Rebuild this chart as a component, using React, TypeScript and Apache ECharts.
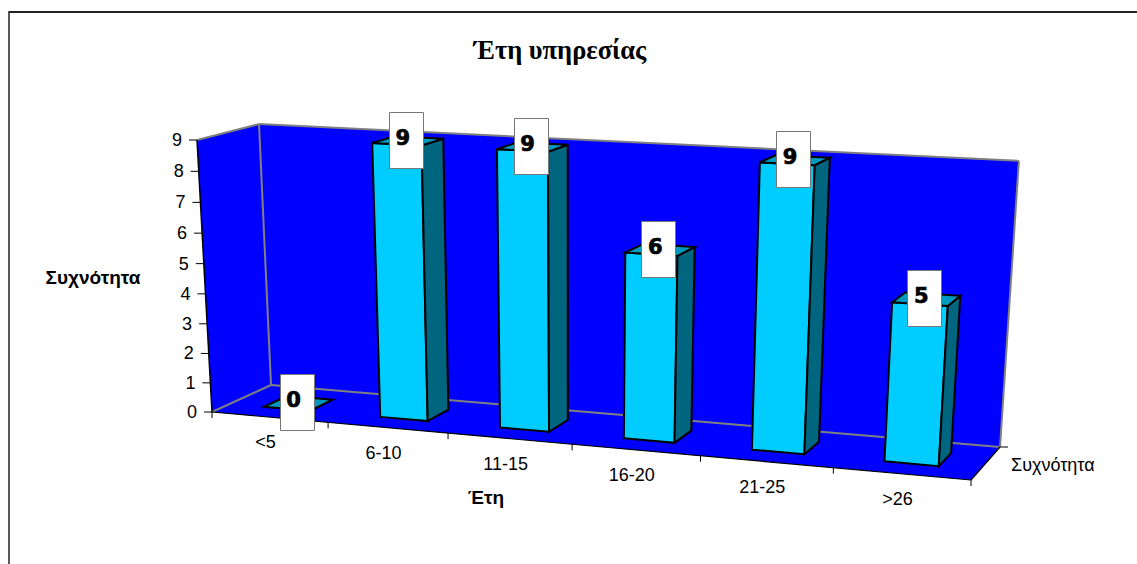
import React, { useEffect, useRef } from "react";
import * as echarts from "echarts";

const categories = ["<5", "6-10", "11-15", "16-20", "21-25", ">26"];
const frequencies = [0, 9, 9, 6, 9, 5];
const valueTicks = [0, 1, 2, 3, 4, 5, 6, 7, 8, 9];
const titleText = "Έτη υπηρεσίας";
const yAxisTitle = "Συχνότητα";
const xAxisTitle = "Έτη";
const seriesName = "Συχνότητα";

const GRID = { left: 212, top: 140, width: 759, height: 272 };
const O = [212, 412], PX = [971, 480], PY = [271, 385], PZ = [197, 140];
const gx = -0.0972, gy = 0.045, gz = -0.04;

// perspective map of the unit box (X along categories, Y depth, Z height) to the page
function project(X: number, Y: number, Z: number): number[] {
  const w = 1 + gx * X + gy * Y + gz * Z;
  const f = (k: number) =>
    (O[k] + (PX[k] * (1 + gx) - O[k]) * X + (PY[k] * (1 + gy) - O[k]) * Y + (PZ[k] * (1 + gz) - O[k]) * Z) / w;
  return [f(0), f(1)];
}
const unitX = (px: number) => (px - GRID.left) / GRID.width;
const unitZ = (py: number) => (GRID.top + GRID.height - py) / GRID.height;

const BLUE = "#0000FF";
const GREY = "#808080";
const poly = (points: number[][], fill: string, stroke?: string, lineWidth = 0, z2 = 0) => ({
  type: "polygon",
  z2,
  shape: { points },
  style: { fill, stroke: stroke || "none", lineWidth, lineJoin: "miter" },
});
const seg = (a: number[], b: number[], stroke: string, lineWidth: number, z2 = 1) => ({
  type: "line",
  z2,
  shape: { x1: a[0], y1: a[1], x2: b[0], y2: b[1] },
  style: { stroke, lineWidth },
});
const text = (x: number, y: number, t: string, font: string, align = "center", z2 = 2) => ({
  type: "text",
  z2,
  style: { x, y, text: t, font, fill: "#000", align, verticalAlign: "middle" },
});

const AXIS_FONT = '18px "Liberation Sans", Arial, sans-serif';
const BOLD_FONT = 'bold 19px "Liberation Sans", Arial, sans-serif';
const BAR_HALF = 0.2 / 6;
const V0 = 0.3, V1 = 0.7;

function renderWalls() {
  const a = project(0, 0, 0), b = project(1, 0, 0), c = project(1, 1, 0), d = project(0, 1, 0);
  const e = project(0, 0, 1), f = project(0, 1, 1), g = project(1, 1, 1);
  return {
    type: "group",
    children: [
      poly([a, b, c, d], BLUE),
      poly([a, e, f, d], BLUE),
      poly([d, f, g, c], BLUE),
      seg(e, f, GREY, 2),
      seg(f, g, GREY, 2),
      seg(g, c, GREY, 2),
      seg(f, d, GREY, 2),
      seg(d, c, GREY, 2),
      seg(d, a, GREY, 2),
      seg(e, a, "#000", 1.5, 3),
      seg(a, b, "#000", 1.2, 3),
      seg(b, c, "#000", 1.2, 3),
      seg(c, [c[0] + 8, c[1]], "#000", 1, 3),
      text(c[0] + 11, c[1] + 18, seriesName, AXIS_FONT, "left"),
    ],
  };
}

function renderValueTick(_: any, api: any) {
  const z = unitZ(api.coord([0, api.value(0)])[1]);
  const p = project(0, 0, z);
  return {
    type: "group",
    children: [
      seg([p[0] - 8, p[1]], p, "#000", 1, 3),
      text(p[0] - 15, p[1], String(api.value(0)), AXIS_FONT, "right"),
    ],
  };
}

function renderCategoryTick(params: any, api: any) {
  const cx = unitX(api.coord([params.dataIndex, 0])[0]);
  const half = 0.5 / 6;
  const end = project(cx + half, 0, 0);
  const mid = project(cx, 0, 0);
  const children: any[] = [
    seg(end, [end[0], end[1] + 6], "#000", 1, 3),
    text(mid[0] - 4, mid[1] + 25, categories[params.dataIndex], AXIS_FONT),
  ];
  if (params.dataIndex === 0) {
    const s = project(0, 0, 0);
    children.push(seg(s, [s[0], s[1] + 6], "#000", 1, 3));
  }
  return { type: "group", children };
}

function renderBar(params: any, api: any) {
  const c = api.coord([api.value(0), api.value(1)]);
  const cx = unitX(c[0]);
  const z = unitZ(c[1]);
  const x0 = cx - BAR_HALF, x1 = cx + BAR_HALF;
  const fl = project(x0, V0, 0), fr = project(x1, V0, 0), br = project(x1, V1, 0);
  const tfl = project(x0, V0, z), tfr = project(x1, V0, z), tbr = project(x1, V1, z), tbl = project(x0, V1, z);
  const S = "#000";
  return {
    type: "group",
    children: [
      poly([fl, fr, tfr, tfl], "#00CCFF", S, 2),
      poly([fr, br, tbr, tfr], "#006680", S, 2),
      poly([tfl, tfr, tbr, tbl], "#0099BF", S, 2),
    ],
  };
}

function renderLabel(params: any, api: any) {
  const c = api.coord([api.value(0), api.value(1)]);
  const p = project(unitX(c[0]), (V0 + V1) / 2, unitZ(c[1]));
  return {
    type: "group",
    children: [
      {
        type: "rect",
        z2: 4,
        shape: { x: Math.round(p[0]) - 19 + 0.5, y: Math.round(p[1]) - 29 + 0.5, width: 34, height: 56 },
        style: { fill: "#fff", stroke: "#777", lineWidth: 1 },
      },
      {
        type: "text",
        z2: 5,
        style: {
          x: p[0] - 5,
          y: p[1] - 3,
          text: String(api.value(1)),
          font: 'bold 21px "DejaVu Sans", sans-serif',
          fill: "#000",
          stroke: "#000",
          lineWidth: 0.7,
          align: "center",
          verticalAlign: "middle",
        },
      },
    ],
  };
}

export default function App() {
  const ref = useRef<HTMLDivElement>(null);
  useEffect(() => {
    document.body.style.margin = "0";
    const chart = echarts.init(ref.current!, undefined, { renderer: "svg" });
    const pairs = frequencies.map((v, i) => [i, v]);
    const base = { type: "custom", coordinateSystem: "cartesian2d", silent: true, clip: false };
    chart.setOption({
      animation: false,
      backgroundColor: "#fff",
      grid: { left: GRID.left, top: GRID.top, width: GRID.width, height: GRID.height },
      xAxis: { type: "category", data: categories, show: false },
      yAxis: { type: "value", min: 0, max: 9, interval: 1, show: false },
      graphic: [
        { type: "line", shape: { x1: 9, y1: 12, x2: 1137, y2: 12 }, style: { stroke: "#222", lineWidth: 2 } },
        { type: "line", shape: { x1: 9, y1: 11, x2: 9, y2: 564 }, style: { stroke: "#222", lineWidth: 1.5 } },
        { type: "text", style: { x: 560, y: 50, text: titleText, font: 'bold 26.5px "Liberation Serif", serif', fill: "#000", align: "center", verticalAlign: "middle" } },
        { type: "text", style: { x: 93, y: 277, text: yAxisTitle, font: BOLD_FONT, fill: "#000", align: "center", verticalAlign: "middle" } },
        { type: "text", style: { x: 486, y: 497, text: xAxisTitle, font: BOLD_FONT, fill: "#000", align: "center", verticalAlign: "middle" } },
      ],
      series: [
        { ...base, name: "walls", z: 1, data: [[0, 0]], renderItem: renderWalls },
        { ...base, name: "valueTicks", z: 2, data: valueTicks.map((v) => [v]), encode: { y: 0 }, renderItem: renderValueTick },
        { ...base, name: "categoryTicks", z: 2, data: categories.map((_, i) => [i, 0]), renderItem: renderCategoryTick },
        { ...base, name: seriesName, z: 3, data: pairs, renderItem: renderBar },
        { ...base, name: "labels", z: 4, data: pairs, renderItem: renderLabel },
      ],
    });
    return () => chart.dispose();
  }, []);
  return <div ref={ref} style={{ position: "absolute", left: 0, top: 0, width: 1137, height: 564 }} />;
}
